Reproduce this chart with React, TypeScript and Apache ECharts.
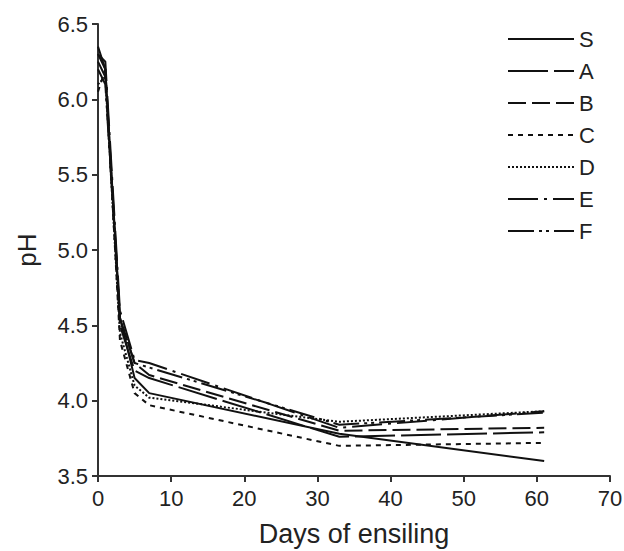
import React, { useEffect, useRef } from "react";
import * as echarts from "echarts";

const days = [0, 1, 3, 5, 7, 33, 61];
const seriesNames = ["S", "A", "B", "C", "D", "E", "F"];
const S = [6.35, 6.2, 4.55, 4.15, 4.05, 3.78, 3.6];
const A = [6.3, 6.2, 4.5, 4.2, 4.15, 3.76, 3.79];
const B = [6.25, 6.15, 4.55, 4.25, 4.17, 3.8, 3.82];
const C = [6.05, 6.2, 4.4, 4.05, 3.97, 3.7, 3.72];
const D = [6.1, 6.15, 4.45, 4.1, 4.02, 3.86, 3.93];
const E = [6.3, 6.25, 4.6, 4.27, 4.25, 3.82, 3.93];
const F = [6.2, 6.1, 4.55, 4.25, 4.22, 3.84, 3.92];
const values = [S, A, B, C, D, E, F];
const dashes: any[] = [
  "solid",
  [40, 6],
  [18, 6],
  [5, 5],
  [2, 2],
  [30, 6, 3, 6],
  [26, 5, 3, 4, 3, 5],
];

export default function App() {
  const ref = useRef<HTMLDivElement>(null);
  useEffect(() => {
    document.body.style.margin = "0";
    document.body.style.overflow = "hidden";
    if (!ref.current) return;
    const chart = echarts.init(ref.current, null, { renderer: "svg" });
    const font = "'Liberation Sans', Arial, sans-serif";
    chart.setOption({
      animation: false,
      backgroundColor: "#fff",
      textStyle: { fontFamily: font },
      grid: {
        left: 98,
        right: 14,
        top: 24,
        bottom: 75,
        containLabel: false,
        outerBoundsMode: "none",
      },
      legend: {
        orient: "vertical",
        left: 502,
        top: 23,
        itemWidth: 66,
        itemHeight: 14,
        itemGap: 10,
        data: seriesNames,
        itemStyle: { opacity: 0 },
        textStyle: { fontSize: 22, color: "#222", fontFamily: font },
      },
      xAxis: {
        type: "value",
        min: 0,
        max: 70,
        interval: 10,
        name: "Days of ensiling",
        nameLocation: "middle",
        nameGap: 44,
        nameTextStyle: { fontSize: 27, color: "#222", fontFamily: font },
        axisLine: { onZero: false, lineStyle: { color: "#333", width: 2 } },
        axisTick: { show: true, length: 6, lineStyle: { color: "#333", width: 2 } },
        axisLabel: { fontSize: 22, color: "#222", margin: 11, fontFamily: font },
        splitLine: { show: false },
      },
      yAxis: {
        type: "value",
        min: 3.5,
        max: 6.5,
        interval: 0.5,
        name: "pH",
        nameLocation: "middle",
        nameGap: 58,
        nameTextStyle: { fontSize: 26, color: "#222", fontFamily: font },
        axisLine: { show: true, lineStyle: { color: "#333", width: 2 } },
        axisTick: { show: true, length: 6, lineStyle: { color: "#333", width: 2 } },
        axisLabel: {
          fontSize: 22,
          color: "#222",
          margin: 10,
          fontFamily: font,
          formatter: (v: number) => v.toFixed(1),
        },
        splitLine: { show: false },
      },
      series: seriesNames.map((name, i) => ({
        name,
        type: "line",
        data: days.map((d, j) => [d, values[i][j]]),
        symbol: "none",
        lineStyle: { color: "#111", width: 2, type: dashes[i] },
        itemStyle: { color: "#111" },
      })),
    });
    return () => chart.dispose();
  }, []);
  return <div ref={ref} style={{ width: 624, height: 551 }} />;
}
